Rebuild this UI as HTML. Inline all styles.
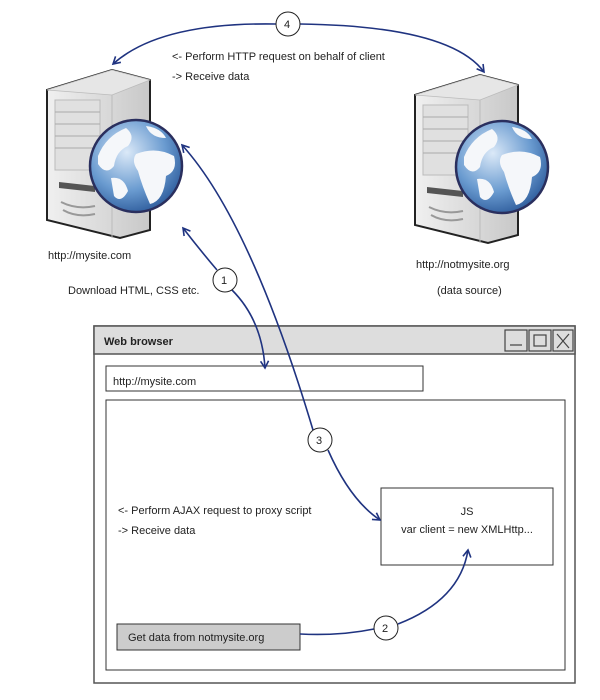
<!DOCTYPE html>
<html><head><meta charset="utf-8"><style>
body{margin:0;background:#fff;width:600px;height:700px;overflow:hidden}
svg{display:block}
text{font-family:"Comic Sans MS","Liberation Sans",sans-serif;font-size:11px;fill:#222}
</style></head><body>
<svg width="600" height="700" viewBox="0 0 600 700">
<defs>
<radialGradient id="gl" cx="0.4" cy="0.35" r="0.7"><stop offset="0" stop-color="#dbe9f8"/><stop offset="0.6" stop-color="#6a9bd0"/><stop offset="1" stop-color="#2c5a9a"/></radialGradient>
<linearGradient id="sv" x1="0" y1="0" x2="1" y2="0"><stop offset="0" stop-color="#f0f0f0"/><stop offset="1" stop-color="#c8c8c8"/></linearGradient>
<marker id="ar" markerWidth="10" markerHeight="10" refX="8" refY="5" orient="auto-start-reverse" markerUnits="userSpaceOnUse"><path d="M1,1 L8,5 L1,9" fill="none" stroke="#1f3380" stroke-width="1.6"/></marker>
<g id="srv">
<path d="M0,10 L65,-10 L103,0 L103,150 L73,158 L0,140 Z" fill="url(#sv)" stroke="#222" stroke-width="2"/>
<path d="M0,10 L65,-10 L103,0 L65,15 Z" fill="#e6e6e6" stroke="#bbb" stroke-width="0.8"/>
<path d="M65,15 L65,158" stroke="#bbb"/>
<rect x="8" y="20" width="45" height="70" fill="#e0e0e0" stroke="#bbb"/>
<path d="M8,32 H53 M8,44 H53 M8,56 H53 M8,68 H53" stroke="#aaa"/>
<path d="M12,102 L48,106 L48,112 L12,108 Z" fill="#555"/>
<path d="M14,122 Q30,130 48,126 M16,130 Q30,138 48,134" stroke="#999" stroke-width="2" fill="none"/>
</g>
<g id="glb">
<circle r="46" fill="url(#gl)" stroke="#2a2f5e" stroke-width="2.5"/>
<path d="M-38,-10 Q-30,-30 -10,-38 Q0,-30 -8,-20 Q-20,-15 -22,0 Q-30,10 -38,-2 Z" fill="#f5f7fa"/>
<path d="M0,-12 Q20,-20 38,-10 Q42,5 30,10 Q28,35 14,38 Q6,20 2,5 Q-5,-5 0,-12 Z" fill="#f5f7fa"/>
<path d="M-25,12 Q-12,10 -8,25 Q-15,38 -22,30 Z" fill="#f5f7fa"/>
<path d="M10,-40 Q25,-38 30,-28 Q15,-28 10,-40 Z" fill="#f5f7fa"/>
</g>
</defs>
<use href="#srv" x="47" y="80"/>
<use href="#glb" x="136" y="166"/>
<use href="#srv" x="415" y="85"/>
<use href="#glb" x="502" y="167"/>

<text x="172" y="60">&lt;- Perform HTTP request on behalf of client</text>
<text x="172" y="80">-&gt; Receive data</text>
<text x="48" y="259">http://mysite.com</text>
<text x="68" y="294">Download HTML, CSS etc.</text>
<text x="416" y="268">http://notmysite.org</text>
<text x="437" y="294">(data source)</text>

<rect x="94" y="326" width="481" height="357" fill="none" stroke="#555" stroke-width="1.5"/>
<rect x="94" y="326" width="481" height="28" fill="#ddd" stroke="#555" stroke-width="1.5"/>
<text x="104" y="345" font-weight="bold">Web browser</text>
<g fill="none" stroke="#444" stroke-width="1.2">
<rect x="505" y="330" width="22" height="21"/><rect x="529" y="330" width="22" height="21"/><rect x="553" y="330" width="20" height="21"/>
<path d="M510,345 H522"/><rect x="534" y="335" width="12" height="11"/><path d="M557,334 L569,348 M569,334 L557,348"/>
</g>
<rect x="106" y="366" width="317" height="25" fill="#fff" stroke="#333"/>
<text x="113" y="385">http://mysite.com</text>
<rect x="106" y="400" width="459" height="270" fill="none" stroke="#333"/>
<text x="118" y="514">&lt;- Perform AJAX request to proxy script</text>
<text x="118" y="534">-&gt; Receive data</text>
<rect x="381" y="488" width="172" height="77" fill="#fff" stroke="#333"/>
<text x="467" y="515" text-anchor="middle">JS</text>
<text x="467" y="533" text-anchor="middle">var client = new XMLHttp...</text>
<rect x="117" y="624" width="183" height="26" fill="#ccc" stroke="#333"/>
<text x="128" y="641">Get data from notmysite.org</text>

<g fill="none" stroke="#1f3380" stroke-width="1.6">
<path d="M113,64 Q160,22 276,24" marker-start="url(#ar)"/>
<path d="M300,24 Q450,26 484,72" marker-end="url(#ar)"/>
<path d="M217,270 Q200,250 183,228" marker-end="url(#ar)"/>
<path d="M232,290 Q262,320 265,368" marker-end="url(#ar)"/>
<path d="M313,430 Q250,220 182,145" marker-end="url(#ar)"/>
<path d="M328,450 Q350,500 380,520" marker-end="url(#ar)"/>
<path d="M300,634 Q340,636 374,629"/>
<path d="M398,624 Q460,600 468,550" marker-end="url(#ar)"/>
</g>
<g fill="#fff" stroke="#222" stroke-width="1">
<circle cx="288" cy="24" r="12"/><circle cx="225" cy="280" r="12"/>
<circle cx="320" cy="440" r="12"/><circle cx="386" cy="628" r="12"/>
</g>
<text x="284" y="28">4</text><text x="221" y="284">1</text><text x="316" y="444">3</text><text x="382" y="632">2</text>
</svg>
</body></html>
